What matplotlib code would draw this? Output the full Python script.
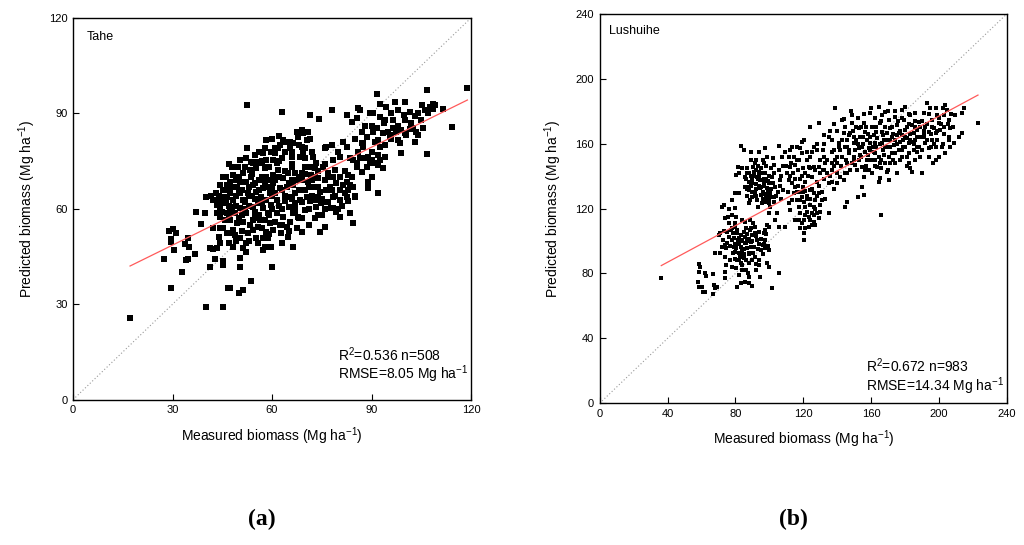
import numpy as np
import matplotlib
matplotlib.use("Agg")
import matplotlib.pyplot as plt

plt.rcParams['font.family'] = ['Liberation Sans', 'DejaVu Sans']
plt.rcParams['mathtext.fontset'] = 'custom'
plt.rcParams['mathtext.rm'] = 'Liberation Sans'
plt.rcParams['mathtext.it'] = 'Liberation Sans:italic'

# ---------------- data: panel (a) Tahe (measured, predicted) ----------------
tahe_points = [
 (17.2,25.8),(27.3,44.2),(29.5,35.0),(28.9,53.0),(30.0,53.8),(29.4,50.4),(31.2,52.3),(30.4,47.2),(29.6,49.7),
 (33.0,40.0),(33.7,48.8),(34.7,50.9),(35.0,47.9),(34.2,43.9),(34.8,44.2),(36.7,45.7),(37.2,58.9),(38.6,55.1),
 (40.1,29.0),(40.0,63.8),(39.9,58.6),(41.3,41.8),(41.3,47.6),(41.5,63.9),(42.1,54.1),(42.8,44.2),(43.3,58.6),
 (43.5,47.6),(44.1,51.0),(45.1,42.3),(45.1,29.0),(45.3,43.6),(45.3,53.9),(46.6,35.0),(47.3,35.0),(46.9,74.1),
 (47.0,49.2),(48.3,48.1),(49.9,33.6),(51.1,34.5),(50.3,41.8),(50.3,44.4),(52.5,92.5),(52.4,79.1),(53.8,37.3),
 (60.0,41.8),(62.9,90.4),(71.5,89.5),(74.1,88.1),(78.2,91.1),(84.5,55.6),(92.0,64.9),(91.6,96.1),(97.2,93.5),
 (100.2,93.5),(106.6,97.4),(118.9,98.1),(114.4,85.8),(111.6,91.3),(106.6,77.2),(107.6,92.1),(108.6,91.3),
 (109.1,92.6),(105.3,92.6),(105.5,85.3),(104.0,83.2),(103.0,81.1),(101.7,90.5),(103.0,89.3),(101.5,85.0),
 (99.0,77.7),(98.5,80.8),(98.0,81.6),(96.5,85.3),(95.5,82.7),(96.5,87.9),(98.0,91.1),(93.7,86.9),(94.0,76.4),
 (94.5,91.9),(92.5,93.0),(92.5,89.0),(91.5,85.3),(92.0,81.6),(91.0,81.1),(92.5,79.5),(89.5,90.0),(88.0,86.0),
 (86.5,91.1),(85.5,88.5),(84.0,87.4),(87.0,80.6),(87.5,79.5),(89.0,76.4),(90.0,75.4),(91.0,74.3),(89.5,74.3),
 (92.0,73.8),(87.0,71.7),(88.5,73.3),(89.0,68.5),(89.0,66.4),(85.5,74.3),(84.5,75.4),(83.5,75.9),(82.5,79.5),
 (81.4,81.1),(82.9,70.6),(82.5,68.5),(82.9,65.9),(81.4,67.5),(80.4,65.9),(79.4,68.0),(80.4,62.8),(82.9,62.3),
 (84.9,63.8),(80.4,57.5),(79.4,59.1),(77.9,60.2),(78.4,63.8),(77.4,67.0),(75.9,69.1),(76.4,65.9),(74.4,65.4),
 (74.9,61.7),(73.4,60.7),(75.9,60.0),(73.9,58.1),(72.9,57.0),(75.9,54.4),(74.6,52.6),(78.9,72.2),(78.4,75.4),
 (76.4,79.5),(75.9,79.0),(80.4,76.4),(73.4,74.3),(72.9,72.7),(72.4,76.4),(71.4,73.3),(71.9,70.6),(73.9,69.6),
 (70.9,68.5),(69.4,65.9),(70.4,63.8),(71.4,62.3),(69.9,59.6),(68.4,62.8),(68.9,52.8),(67.4,53.9),(66.4,48.1),
 (64.9,51.0),(65.4,56.0),(66.4,58.6),(67.9,57.5),(66.9,61.7),(65.4,63.8),(63.9,62.3),(63.4,57.5),(64.4,54.4),
 (62.9,49.3),(62.7,52.3),(62.4,54.9),(61.4,58.6),(61.4,62.8),(62.4,66.4),(64.4,67.0),(66.4,67.5),(67.9,69.1),
 (68.9,71.2),(69.9,73.3),(68.4,76.4),(69.4,77.9),(68.9,79.5),(70.4,81.6),(71.4,82.1),(70.9,84.2),(69.4,83.7),
 (68.9,84.8),(67.4,84.2),(67.9,82.7),(66.4,80.6),(65.4,79.0),(65.9,76.4),(65.9,73.3),(66.9,71.2),(64.9,71.2),
 (63.4,69.6),(65.4,81.1),(63.4,81.6),(62.4,80.1),(61.8,79.0),(60.8,77.4),(60.3,75.4),(61.4,74.3),(61.8,72.2),
 (60.3,70.6),(59.3,69.1),(60.3,68.0),(58.3,67.0),(59.3,64.9),(58.3,62.8),(59.8,61.2),(58.8,58.6),(57.8,56.5),
 (59.3,55.4),(60.3,53.3),(58.3,52.8),(57.3,50.7),(58.8,50.7),(59.8,48.1),(57.8,48.1),(57.3,47.1),(55.8,49.3),
 (55.3,50.7),(54.3,53.3),(55.8,54.4),(56.3,56.5),(54.3,56.5),(53.3,54.9),(52.8,52.3),(52.3,49.2),(51.3,55.9),
 (52.3,58.6),(54.3,60.7),(55.8,61.7),(57.3,60.2),(56.8,63.8),(55.3,65.4),(57.3,66.4),(58.3,70.1),(57.8,72.7),
 (58.3,75.4),(58.3,81.6),(59.8,77.9),(57.3,77.4),(56.3,74.3),(55.3,72.7),(54.3,74.3),(53.3,72.2),(53.8,70.1),
 (52.3,68.5),(54.3,67.5),(52.8,64.9),(51.3,62.8),(50.3,60.2),(50.3,64.9),(49.3,67.0),(50.3,68.5),(51.3,71.2),
 (49.8,73.3),(48.3,70.6),(47.3,68.5),(48.3,67.0),(47.3,64.9),(48.3,62.8),(47.3,60.7),(48.8,58.6),(47.3,56.5),
 (49.3,55.4),(48.3,53.3),(48.8,51.8),(47.3,52.4),(50.3,50.7),(51.3,47.6),(52.3,46.5),(46.3,58.6),(45.3,61.7),
 (46.3,63.8),(45.3,65.9),(46.3,67.5),(45.3,70.1),(44.3,67.5),(43.8,62.8),(44.3,60.7),(43.3,61.2),(42.3,62.8),
 (43.1,64.9),(44.8,63.8),(44.3,57.5),(45.8,56.5),(44.3,49.2),(46.3,52.4),(50.3,75.4),(51.8,73.3),(52.3,75.9),
 (53.8,74.8),(55.3,74.8),(54.8,77.0),(44.3,53.9),(42.3,47.5),(75.4,73.3),(76.9,71.2),(73.9,63.8),(72.4,67.0),
 (72.9,62.8),(78.4,60.2),(81.9,64.9),(83.5,67.5),(78.4,70.1),(80.4,70.1),(84.5,67.0),(83.5,58.6),(82.5,63.8),
 (85.5,73.3),(88.5,82.7),(90.5,84.2),(93.5,83.7),(95.0,84.2),(96.0,83.2),(97.5,84.2),(99.0,84.8),(100.0,83.7),
 (100.5,83.2),(102.5,85.5),(103.5,84.2),(105.0,87.9),(107.0,90.0),(108.6,92.9),(99.7,89.5),(90.5,90.0),
 (82.5,89.5),(86.0,91.6),(87.5,80.6),(86.5,75.9),(90.0,70.1),(89.0,67.5),(93.5,72.7),(92.5,75.4),
 (56.0,58.0),(57.0,70.0),(61.0,65.0),(63.0,60.0),(65.0,60.5),(67.0,65.0),(69.0,69.0),(62.0,70.0),(60.0,60.0),
 (55.0,63.0),(53.0,61.0),(50.0,57.0),(49.0,61.0),(66.0,69.0),(70.0,66.0),(71.0,60.0),(68.0,57.0),(64.0,64.0),
 (46,62),(47,66),(48,59),(49,64),(50,70),(51,58),(52,62),(53,67),(54,71),(55,59),(56,66),(57,62),(58,68),
 (59,58),(60,64),(61,69),(62,61),(63,66),(64,72),(65,68),(66,63),(67,59),(68,66),(69,62),(70,71),(71,67),
 (72,64),(73,70),(74,67),(75,63),(46,70),(48,73),(50,66),(52,60),(54,64),(56,69),(58,73),(60,67),(62,75),
 (64,78),(66,74),(68,70),(70,76),(72,69),(74,72),(76,62),(78,66),(80,60),(82,72),(84,70),
 (47,57),(49,50),(51,53),(53,50),(55,57),(57,54),(59,52),(61,56),(63,55),(65,53),(67,61),(69,57),(71,55),
 (73,57),(75,58),(77,62),(79,64),(81,61),(83,66),(85,64),
 (56,78),(58,79),(60,82),(62,83),(64,81),(66,78),(68,80),(70,79),(72,78),(63,76),(61,79),(59,73),(57,75),
 (55,68),(53,64),(51,66),(49,69),(47,61),(45,59),(44,64),
 (86,78),(88,76),(90,78),(92,77),(94,80),(96,82),(98,86),(100,88),(102,87),(104,90),(106,91),(94,88),(96,90),
 (90,86),(87,84),(85,82),(80,78),(78,80),(76,74),(77,70),
]
tahe_fit = (33.2, 0.513)          # intercept, slope of red regression line
tahe_fit_range = (17.2, 118.9)
tahe_lim = 120
tahe_ticks = [0, 30, 60, 90, 120]

# ---------------- data: panel (b) Lushuihe (measured, predicted) ----------------
lushuihe_points = [
 (36.3,77.4),(101.5,70.8),(105.5,80.5),(166.0,116.2),(222.9,172.9),(138.8,181.7),
 (58.7,85.6),(59.3,84.2),(58.7,81.1),(58.1,74.9),(58.7,71.9),(60.3,71.4),(60.9,68.4),(61.9,68.4),(62.2,80.1),
 (62.6,78.4),(67.0,79.4),(67.2,72.9),(67.0,67.3),(68.2,70.8),(69.0,71.4),
 (68.2,92.4),(70.1,103.7),(71.1,104.7),(72.1,121.1),(73.0,122.2),(72.1,96.5),(71.1,92.4),(72.5,100.6),(73.6,97.5),
 (74.5,95.5),(74.0,113.9),(75.6,115.0),(76.0,110.9),(75.1,105.7),(76.0,102.6),(74.0,90.3),(74.5,85.2),(73.6,81.1),
 (74.0,77.0),(77.0,88.3),(78.0,84.2),(78.4,92.4),(79.2,96.5),(78.0,100.6),(78.4,104.7),(77.6,106.8),(78.0,125.2),
 (80.0,120.1),(80.0,129.3),(80.3,115.0),(79.5,108.8),(81.0,104.7),(81.5,100.6),(80.3,95.5),(81.9,92.4),(81.0,88.3),
 (83.1,86.2),(80.3,83.1),(81.9,79.0),(81.1,71.9),(83.1,73.9),(83.9,82.1),(84.8,89.3),(83.5,96.5),(83.9,100.6),
 (83.1,103.7),(84.8,105.7),(85.8,102.6),(85.4,98.5),(86.8,95.5),(87.8,92.4),(86.4,88.3),(88.2,86.2),(87.4,80.1),
 (85.8,74.9),(88.2,73.9),(89.7,72.3),(88.8,106.8),(89.7,103.7),(89.3,99.6),(90.7,96.5),(90.1,92.4),(91.7,90.3),
 (91.3,104.7),(92.7,100.6),(93.7,105.7),(91.7,108.8),(90.1,110.9),(88.8,112.9),(85.8,111.9),(83.9,112.9),
 (93.7,88.3),(93.7,85.2),(94.7,78.0),(95.3,94.4),(96.1,97.5),(97.2,100.6),(96.6,104.7),(97.6,106.8),(98.6,109.8),
 (99.6,108.8),(97.6,95.5),(99.6,94.4),(98.6,86.2),(99.6,84.2),(91.9,82.1),
 (82.0,98.0),(84.0,94.0),(86.0,99.0),(87.0,104.0),(89.0,96.0),(80.0,98.0),(82.5,90.0),(85.0,92.0),(88.0,101.0),
 (83.5,158.7),(84.8,156.0),(81.3,145.8),(82.3,141.7),(80.5,140.6),(83.9,144.7),(85.4,139.6),(86.8,141.7),
 (85.8,133.4),(81.9,129.3),(88.0,136.4),(88.2,131.4),(88.2,123.2),(88.8,125.2),(89.3,149.9),(90.1,145.8),
 (90.9,142.7),(91.7,147.8),(92.7,139.6),(92.1,135.1),(91.7,129.3),(92.7,125.2),(93.3,121.1),(93.7,142.7),
 (94.7,137.6),(94.7,132.4),(95.3,128.3),(93.7,155.0),(97.2,157.0),(96.6,147.8),(97.6,141.7),(96.6,136.6),
 (98.6,132.4),(98.0,126.3),(99.6,123.2),(100.5,129.3),(100.0,135.5),(101.5,139.6),(101.2,144.7),(102.5,146.8),
 (103.5,133.4),(102.5,127.3),(104.5,117.0),(103.5,112.9),(100.5,121.1),(99.6,117.0),(105.6,158.5),(107.6,151.9),
 (105.5,143.7),(106.5,137.6),(108.1,131.4),(105.5,108.8),(109.4,108.8),(95.6,123.2),(98.6,152.0),(86.8,133.4),
 (89.7,127.3),(97.2,124.2),(101.9,151.0),
 (90.0,138.0),(92.0,144.0),(94.0,140.0),(96.0,130.0),(98.0,138.0),(95.0,145.0),(99.0,130.0),(92.0,132.0),
 (87.0,145.0),(89.0,140.0),(97.0,134.0),(100.0,125.0),
 (109.4,155.0),(111.4,151.9),(113.3,158.1),(114.3,151.9),(112.3,145.8),(115.3,146.8),(117.2,149.9),(116.8,143.7),
 (118.2,157.0),(119.2,161.1),(120.2,162.2),(119.2,153.9),(110.4,141.7),(111.4,137.6),(113.3,135.5),(114.3,129.3),
 (113.3,125.2),(111.4,123.2),(112.3,119.1),(115.3,133.4),(116.3,125.2),(117.2,121.1),(118.2,117.0),(119.2,127.3),
 (119.6,133.4),(121.2,136.5),(121.2,141.7),(123.1,145.8),(122.1,149.9),(124.1,151.9),(125.1,155.0),(120.2,124.2),
 (121.2,121.1),(122.1,118.0),(123.1,115.0),(120.6,112.9),(119.2,110.9),(120.2,104.7),(120.6,100.6),(123.1,108.8),
 (124.1,112.9),(125.1,117.0),(126.1,121.1),(127.1,125.2),(126.1,129.3),(124.1,131.4),(128.0,117.0),(129.0,113.9),
 (127.1,109.8),(130.0,122.1),(131.0,125.2),(129.0,129.3),(128.0,136.5),(130.0,141.7),(131.3,143.7),(129.0,145.8),
 (127.1,143.7),(125.1,139.6),(124.1,170.4),(129.0,172.5),(128.0,156.0),(131.3,156.0),(132.0,151.9),(133.0,147.8),
 (134.9,135.5),(134.9,117.0),(136.9,136.6),(126.1,145.8),(117.2,112.9),(115.3,112.9),(118.2,130.3),
 (122.0,126.0),(124.0,122.0),(126.0,116.0),(118.0,138.0),(116.0,130.0),(121.0,131.0),
 (134.9,164.2),(136.9,162.2),(137.9,156.0),(138.8,149.9),(139.8,151.9),(140.8,160.1),(141.8,156.0),(142.8,151.9),
 (139.8,141.7),(141.8,139.6),(142.8,174.5),(144.7,170.4),(143.7,166.3),(145.7,162.2),(144.7,158.1),(146.7,153.9),
 (145.7,147.8),(144.7,141.7),(143.7,137.6),(144.7,121.1),(145.7,124.2),(147.7,166.3),(148.7,172.5),(148.7,177.6),
 (149.7,160.1),(150.6,156.0),(149.7,151.9),(150.6,146.8),(151.6,143.7),(152.6,169.4),(153.6,164.2),(154.6,158.1),
 (153.6,153.0),(154.6,145.8),(155.5,139.6),(154.6,133.4),(152.2,127.3),(155.5,128.3),(155.5,172.5),(156.5,167.4),
 (157.5,162.2),(158.5,157.0),(157.5,149.9),(158.5,143.7),(159.5,178.7),(160.4,170.4),(161.4,165.3),(162.4,160.1),
 (161.4,155.0),(162.4,149.9),(163.4,145.8),(164.4,136.5),(165.4,138.6),(164.4,182.7),(166.3,177.6),(165.4,172.5),
 (166.3,167.4),(167.3,162.2),(168.3,158.1),(167.3,153.0),(168.3,147.8),(169.3,142.7),(168.3,179.6),(171.2,184.8),
 (170.3,174.5),(171.2,169.4),(172.2,164.2),(173.2,159.1),(172.2,153.9),(171.2,147.8),(170.3,137.6),(174.2,176.6),
 (175.2,171.4),(176.2,166.3),(177.2,161.1),(176.2,156.0),(177.2,149.9),(175.2,141.7),(178.1,180.7),(179.1,174.5),
 (180.1,168.4),(181.1,163.2),(180.1,158.1),(181.1,151.9),(180.1,182.7),(183.0,177.6),(184.0,171.4),(185.0,166.3),
 (184.0,161.1),(185.0,156.0),(184.0,142.7),(183.0,144.7),(186.0,178.6),(188.0,173.5),(187.0,168.4),(189.0,164.2),
 (188.0,158.1),(189.0,151.9),(190.9,178.6),(191.9,170.4),(192.9,184.8),(193.9,167.4),(192.9,162.2),(193.9,157.0),
 (194.9,181.7),(195.9,174.5),(196.8,169.4),(196.2,147.8),(198.1,166.3),(198.8,177.6),(199.7,172.5),(200.7,168.4),
 (199.7,151.9),(201.7,158.1),(203.7,153.9),(202.7,177.6),(203.7,184.0),(204.7,180.7),(205.6,174.5),(206.6,169.4),
 (205.6,164.2),(206.6,158.1),(208.6,160.1),(209.6,177.6),(213.5,178.6),(214.5,181.7),(211.6,164.2),(213.5,166.3),
 (190.0,141.6),
 (156.5,155.0),(159.5,160.1),(163.4,163.2),(166.3,160.1),(169.3,166.3),(174.2,162.2),(178.1,165.3),(182.0,160.1),
 (186.0,162.2),(191.9,160.1),(190.9,166.3),(172.2,170.4),(162.4,153.9),(152.6,149.9),(148.7,147.8),(147.7,143.7),
 (156.5,143.7),(160.4,141.7),(164.4,151.9),(170.3,151.9),(174.2,153.9),(178.1,151.9),(182.0,153.9),(187.0,155.0),
 (195.9,162.2),(198.1,158.1),(136.9,147.8),(136.9,143.7),(132.0,143.7),
 (150.0,164.0),(158.0,166.0),(163.0,170.0),(168.0,170.0),(176.0,174.0),(182.0,172.0),(186.0,170.0),(160.0,150.0),
 (146.0,158.0),(152.0,160.0),(170.0,158.0),(180.0,164.0),(196.0,170.0),(200.0,176.0),(154.0,170.0),(166.0,145.0),
 (141,158),(143,162),(145,150),(147,156),(149,168),(151,162),(153,157),(155,164),(157,170),(159,164),(161,158),
 (163,167),(165,160),(167,156),(169,162),(171,158),(173,166),(175,160),(177,168),(179,162),(181,170),(183,166),
 (185,160),(187,164),(189,170),(191,164),(193,172),(195,166),(197,160),(199,168),(201,172),(203,166),(205,172),
 (207,178),(142,146),(146,142),(150,150),(154,152),(158,153),(162,146),(166,150),(170,144),(174,148),(178,156),
 (182,148),(186,150),(190,156),(194,152),(198,150),(202,160),(206,162),
 (144,175),(148,180),(152,176),(156,178),(160,182),(162,176),(166,174),(170,180),(174,180),(178,176),(182,178),
 (186,174),(190,174),(194,178),(198,182),(202,182),(208,170),
 (147,165),(151,170),(155,160),(159,156),(163,158),(167,165),(171,162),(175,165),(179,158),(183,162),(187,158),
 (191,168),(195,158),(199,162),(203,170),(157,146),(165,148),(173,150),(181,146),
 (86,138),(87,128),(88,142),(89,134),(90,130),(91,140),(92,128),(93,146),(94,134),(95,142),(96,126),(97,138),
 (98,146),(99,128),(100,140),(101,132),(102,136),(103,142),(104,128),(106,134),(107,140),(108,146),(96,150),
 (92,150),(89,155),(87,132),(90,136),(93,138),(95,133),(97,129),(99,137),(101,127),(103,124),(105,130),(107,126),
 (77,97),(78,108),(79,102),(80,93),(81,107),(82,102),(83,92),(84,100),(85,95),(86,108),(87,100),(88,92),
 (89,108),(90,100),(91,96),(92,103),(93,95),(94,98),(95,101),(96,92),(97,98),(98,104),(99,97),(84,85),(86,82),
 (88,78),(90,88),(92,86),(82,88),(80,89),(75,99),(73,106),(76,120),(78,116),(80,111),
 (111,130),(112,140),(113,148),(114,142),(115,138),(116,150),(117,134),(118,125),(119,140),(120,130),(121,116),
 (122,128),(123,140),(124,126),(125,132),(126,112),(127,120),(128,128),(129,134),(130,118),(131,130),(132,138),
 (133,126),(134,142),(122,155),(126,158),(130,150),(128,160),(132,160),(124,145),(110,146),(112,156),(116,158),
 (120,145),(118,108),(121,108),(125,110),
 (136,140),(138,146),(138,132),(140,136),(134,150),(137,155),(140,148),(132,165),(136,168),(140,168),(138,172),
]
lushuihe_fit = (64.4, 0.563)
lushuihe_fit_range = (36.3, 222.9)
lushuihe_lim = 240
lushuihe_ticks = [0, 40, 80, 120, 160, 200, 240]

panels = [
    dict(points=tahe_points, fit=tahe_fit, rng=tahe_fit_range, lim=tahe_lim, ticks=tahe_ticks,
         site="Tahe", r2="0.536", n="508", rmse="8.05", caption="a",
         rect=[0.0713, 0.2666, 0.3887, 0.7005], ms=22, sx=0.034, sy=0.965, rx=0.666, ry1=0.118, ry2=0.068),
    dict(points=lushuihe_points, fit=lushuihe_fit, rng=lushuihe_fit_range, lim=lushuihe_lim, ticks=lushuihe_ticks,
         site="Lushuihe", r2="0.672", n="983", rmse="14.34", caption="b",
         rect=[0.5856, 0.2600, 0.3978, 0.7148], ms=7, sx=0.024, sy=0.970, rx=0.654, ry1=0.096, ry2=0.045),
]

fig = plt.figure(figsize=(10.24, 5.45), dpi=100)
for p in panels:
    ax = fig.add_axes(p['rect'])
    pts = np.array(p['points'], dtype=float)
    lim = p['lim']
    ax.plot([0, lim], [0, lim], linestyle=(0, (1, 2)), color='#999999', lw=0.8, zorder=1)
    ax.scatter(pts[:, 0], pts[:, 1], marker='s', s=p['ms'], c='black', linewidths=0, zorder=2)
    xr = np.array(p['rng'])
    a, b = p['fit']
    ax.plot(xr, a + b * xr, color='#ff5a5a', lw=0.9, zorder=3)
    ax.set_xlim(0, lim)
    ax.set_ylim(0, lim)
    ax.set_xticks(p['ticks'])
    ax.set_yticks(p['ticks'])
    ax.tick_params(direction='in', length=4, width=0.8, labelsize=8, top=False, right=False, pad=4)
    for s in ax.spines.values():
        s.set_linewidth(1.0)
    ax.set_xlabel(r"Measured biomass (Mg ha$^{\mathregular{-1}}$)", fontsize=10, labelpad=7)
    ax.set_ylabel(r"Predicted biomass (Mg ha$^{\mathregular{-1}}$)", fontsize=10, labelpad=8)
    ax.text(p['sx'], p['sy'], p['site'], transform=ax.transAxes, fontsize=9, va='top', ha='left')
    ax.text(p['rx'], p['ry1'], "R$^{\\mathregular{2}}$=%s n=%s" % (p['r2'], p['n']),
            transform=ax.transAxes, fontsize=10, va='center', ha='left')
    ax.text(p['rx'], p['ry2'], "RMSE=%s Mg ha$^{\\mathregular{-1}}$" % p['rmse'],
            transform=ax.transAxes, fontsize=10, va='center', ha='left')
    cx = p['rect'][0] + p['rect'][2] / 2 - 10 / 1024
    fig.text(cx, 0.047, "(" + p['caption'] + ")", fontsize=17, fontweight='bold',
             family=['Liberation Serif', 'DejaVu Serif'], ha='center', va='center')

fig.savefig("out.png", dpi=100)
